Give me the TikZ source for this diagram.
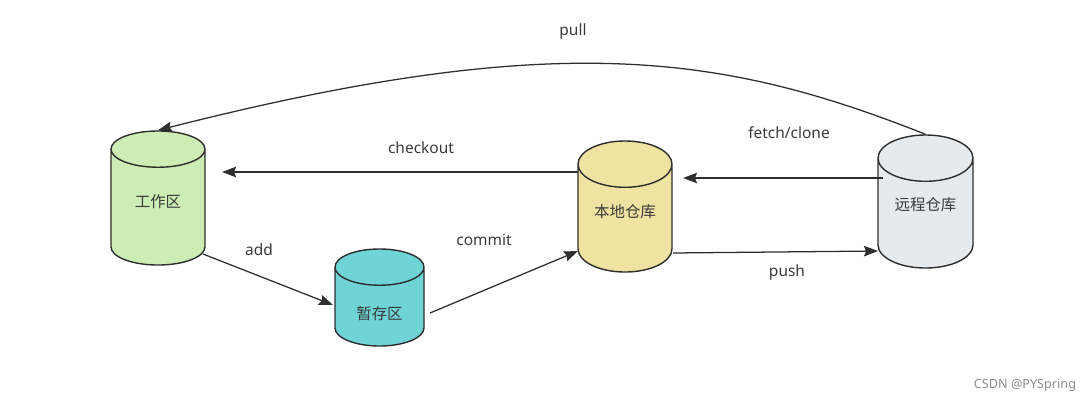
\documentclass[tikz,border=0pt]{standalone}
\usepackage{fontspec}
\setmainfont{Noto Sans}
\newfontfamily\cjk{Noto Sans CJK SC}
\usetikzlibrary{shapes.geometric,arrows.meta}

\definecolor{lineclr}{HTML}{2E2E2E}
\definecolor{textclr}{HTML}{3A3A3A}
\definecolor{workclr}{HTML}{CCEEB5}
\definecolor{stageclr}{HTML}{6FD4D6}
\definecolor{localclr}{HTML}{F0E2A0}
\definecolor{remoteclr}{HTML}{E6EAED}

\tikzset{
    repo/.style={cylinder, shape border rotate=90, aspect=0.65, draw=lineclr,
        line width=1pt, anchor=shape center, text height=8pt,
        font=\cjk\fontsize{11}{13}\selectfont, text=textclr},
    arr/.style={draw=lineclr, line width=0.9pt,
        -{Stealth[length=10pt, width=7.5pt, inset=1.5pt]}},
    lbl/.style={font=\fontsize{11}{13}\selectfont, text=textclr}
}

\begin{document}
\begin{tikzpicture}[x=0.025cm, y=-0.025cm]
            \useasboundingbox (0,0) rectangle (1089,402);
            \node[repo, fill=workclr, text depth=13.8pt, minimum width=2.35cm, minimum height=3.35cm] (work) at (158,198) {工作区};
            \node[repo, fill=stageclr, text height=12pt, text depth=0pt, minimum width=2.225cm, minimum height=2.425cm] (stage) at (379.5,297.5) {暂存区};
            \node[repo, fill=localclr, text depth=15.9pt, minimum width=2.35cm, minimum height=3.275cm] (local) at (625,206.5) {本地仓库};
            \node[repo, fill=remoteclr, text depth=18.8pt, minimum width=2.375cm, minimum height=3.325cm] (remote) at (925.5,201.5) {远程仓库};
            % connectors
            \path[arr] (remote.north) .. controls (725,55) and (560,28) .. (work.north);
            \path[arr] ([shift={(-47,-34.5)}]local.shape center) -- ([shift={(64,-26)}]work.shape center);
            \path[arr] ([shift={(-42.5,-23.5)}]remote.shape center) -- ([shift={(58,-28.5)}]local.shape center);
            \path[arr] ([shift={(48,46.5)}]local.shape center) -- ([shift={(-47.5,49.5)}]remote.shape center);
            \path[arr] ([shift={(45,56)}]work.shape center) -- ([shift={(-46.5,7.5)}]stage.shape center);
            \path[arr] ([shift={(50.5,15.5)}]stage.shape center) -- ([shift={(-47,44.5)}]local.shape center);
            % labels
            \node[lbl] (pull) at (573,31) {pull};
            \node[lbl] (checkout) at (421,148) {checkout};
            \node[lbl] (fetch) at (789,133) {fetch/clone};
            \node[lbl] (push) at (787,272) {push};
            \node[lbl] (add) at (259,250) {add};
            \node[lbl] (commit) at (484,240) {commit};
            \node[font=\fontsize{9}{11}\selectfont, text=black!45] (mark) at (1025,385) {CSDN @PYSpring};
        \end{tikzpicture}
\end{document}
